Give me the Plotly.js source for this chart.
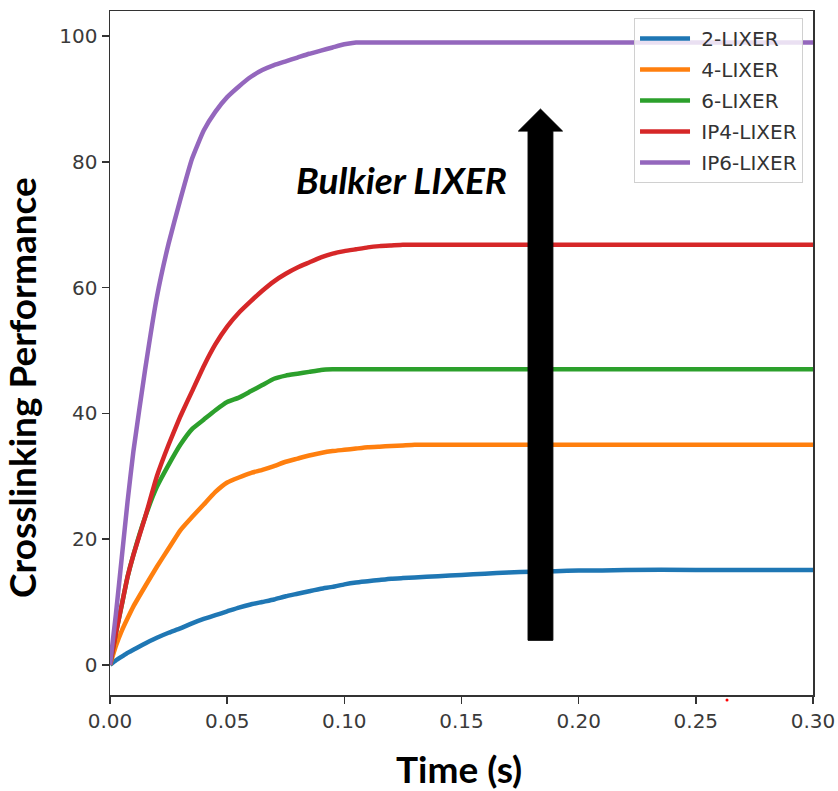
<!DOCTYPE html>
<html>
<head>
<meta charset="utf-8">
<script src="https://cdn.plot.ly/plotly-3.0.1.min.js"></script>
<style>html,body{margin:0;padding:0;background:#fff;}#chart{width:838px;height:791px;}</style>
</head>
<body>
<div id="chart"></div>
<script>
// Time (s)
var time = [0, 0.0025, 0.005, 0.0075, 0.01, 0.015, 0.02, 0.025, 0.03, 0.035, 0.04, 0.045, 0.05, 0.055, 0.06, 0.065, 0.07, 0.075, 0.08, 0.085, 0.09, 0.095, 0.1, 0.105, 0.11, 0.115, 0.12, 0.125, 0.13, 0.14, 0.15, 0.16, 0.17, 0.18, 0.19, 0.2, 0.21, 0.22, 0.25, 0.3];

var lixer2 = [0, 0.7, 1.3, 1.9, 2.4, 3.4, 4.3, 5.1, 5.8, 6.6, 7.3, 7.9, 8.5, 9.1, 9.6, 10.0, 10.4, 10.9, 11.3, 11.7, 12.1, 12.4, 12.8, 13.1, 13.3, 13.5, 13.7, 13.8, 13.9, 14.1, 14.3, 14.5, 14.7, 14.8, 14.9, 15.0, 15.0, 15.1, 15.1, 15.1];
var lixer4 = [0, 3.0, 5.4, 7.4, 9.3, 12.5, 15.6, 18.5, 21.4, 23.5, 25.5, 27.5, 29.0, 29.8, 30.5, 31.0, 31.6, 32.3, 32.8, 33.3, 33.7, 34.0, 34.2, 34.4, 34.6, 34.7, 34.8, 34.9, 35.0, 35.0, 35.0, 35.0, 35.0, 35.0, 35.0, 35.0, 35.0, 35.0, 35.0, 35.0];
var lixer6 = [0, 5.0, 9.5, 14.0, 17.5, 23.5, 28.3, 31.8, 35.0, 37.5, 39.0, 40.5, 41.8, 42.5, 43.5, 44.5, 45.5, 46.0, 46.3, 46.6, 46.9, 47.0, 47.0, 47.0, 47.0, 47.0, 47.0, 47.0, 47.0, 47.0, 47.0, 47.0, 47.0, 47.0, 47.0, 47.0, 47.0, 47.0, 47.0, 47.0];
var ip4 = [0, 5.0, 9.5, 14.0, 17.5, 23.5, 30.0, 35.0, 39.5, 43.5, 47.5, 51.0, 53.8, 56.0, 57.8, 59.5, 61.0, 62.2, 63.2, 64.0, 64.8, 65.4, 65.8, 66.1, 66.4, 66.6, 66.7, 66.8, 66.8, 66.8, 66.8, 66.8, 66.8, 66.8, 66.8, 66.8, 66.8, 66.8, 66.8, 66.8];
var ip6 = [0, 8.0, 17.0, 26.0, 34.0, 47.0, 58.5, 67.0, 74.0, 80.5, 85.0, 88.0, 90.3, 92.0, 93.5, 94.6, 95.4, 96.0, 96.6, 97.2, 97.7, 98.2, 98.7, 99.0, 99.0, 99.0, 99.0, 99.0, 99.0, 99.0, 99.0, 99.0, 99.0, 99.0, 99.0, 99.0, 99.0, 99.0, 99.0, 99.0];

var seriesNames = ['2-LIXER', '4-LIXER', '6-LIXER', 'IP4-LIXER', 'IP6-LIXER'];
var seriesValues = [lixer2, lixer4, lixer6, ip4, ip6];
var seriesColors = ['#1f77b4', '#ff7f0e', '#2ca02c', '#d62728', '#9467bd'];

var xTicks = [0, 0.05, 0.10, 0.15, 0.20, 0.25, 0.30];
var xTickLabels = ['0.00', '0.05', '0.10', '0.15', '0.20', '0.25', '0.30'];
var yTicks = [0, 20, 40, 60, 80, 100];

var traces = seriesNames.map(function (n, i) {
  return {
    x: time, y: seriesValues[i], name: '\u00a0' + n, legendgroup: 'g' + i,
    type: 'scatter', mode: 'lines',
    line: {color: seriesColors[i], width: 4.5, shape: 'spline', smoothing: 0.4}
  };
});

// arrow geometry (data coordinates)
var ax = 0.1837, hw = 0.0053, HW = 0.0094, yBot = 3.9, yBase = 84.9, yTip = 88.4;
var arrowPath = 'M' + (ax - hw) + ',' + yBot + ' L' + (ax + hw) + ',' + yBot + ' L' + (ax + hw) + ',' + yBase +
  ' L' + (ax + HW) + ',' + yBase + ' L' + ax + ',' + yTip + ' L' + (ax - HW) + ',' + yBase + ' L' + (ax - hw) + ',' + yBase + ' Z';

var tickFont = {family: 'DejaVu Sans', size: 20, color: '#3a3a3a'};
var titleFont = {family: 'Lato', size: 37, color: '#000'};
var layout = {
  width: 838, height: 791,
  margin: {l: 110, r: 25, t: 11, b: 96},
  paper_bgcolor: '#fff', plot_bgcolor: '#fff',
  showlegend: true,
  xaxis: {
    range: [0, 0.30], tickvals: xTicks, ticktext: xTickLabels,
    ticks: 'outside', ticklen: 7, tickwidth: 1.5, tickcolor: '#333',
    showline: true, linecolor: '#333', linewidth: 1.5, mirror: true,
    showgrid: false, zeroline: false, tickfont: tickFont
  },
  yaxis: {
    range: [-4.8, 104], tickvals: yTicks,
    ticks: 'outside', ticklen: 7, tickwidth: 1.5, tickcolor: '#333',
    showline: true, linecolor: '#333', linewidth: 1.5, mirror: true,
    showgrid: false, zeroline: false, tickfont: tickFont
  },
  legend: {
    x: 0.9858, y: 0.9898, xanchor: 'right', yanchor: 'top',
    bgcolor: 'rgba(255,255,255,0.8)', bordercolor: '#d0d0d0', borderwidth: 1,
    font: {family: 'DejaVu Sans', size: 20, color: '#333'}, itemwidth: 50,
    tracegroupgap: 2
  },
  shapes: [
    {type: 'path', xref: 'x', yref: 'y', path: arrowPath, fillcolor: '#000', line: {color: '#000', width: 1}},
    {type: 'circle', xref: 'paper', yref: 'paper', xsizemode: 'pixel', ysizemode: 'pixel',
     xanchor: 0.8777, yanchor: -0.0073, x0: -1.5, x1: 1.5, y0: -1.5, y1: 1.5,
     fillcolor: '#ff0000', line: {width: 0}}
  ],
  annotations: [
    {text: '<b>Crosslinking Performance</b>', xref: 'paper', yref: 'paper', x: -0.125, y: 0.449,
     xanchor: 'center', yanchor: 'middle',
     textangle: -90, showarrow: false, font: titleFont},
    {text: '<b>Time (s)</b>', xref: 'paper', yref: 'paper', x: 0.4964, y: -0.108,
     xanchor: 'center', yanchor: 'middle',
     showarrow: false, font: titleFont},
    {text: '<b><i>Bulkier LIXER</i></b>', xref: 'paper', yref: 'paper', x: 0.414, y: 0.753,
     xanchor: 'center', yanchor: 'middle',
     showarrow: false, font: titleFont}
  ]
};

Plotly.newPlot('chart', traces, layout, {displayModeBar: false, staticPlot: true});
</script>
</body>
</html>
